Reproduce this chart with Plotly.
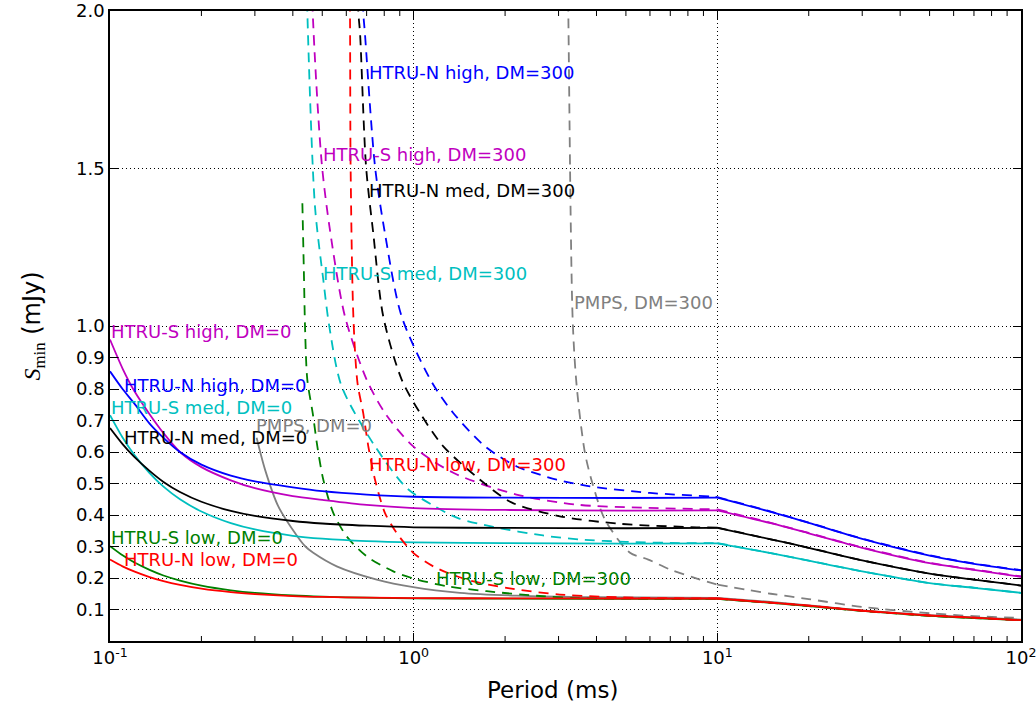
import numpy as np
import plotly.graph_objects as go

# ---------------- data (period in ms, S_min in mJy) ----------------
# DM = 0 curves (solid)
P_sol = [0.1, 0.11, 0.12, 0.135, 0.15, 0.17, 0.2, 0.25, 0.3, 0.4, 0.5, 0.7, 1.0, 2.0, 5.0, 10.0, 15.0, 20.0, 30.0, 50.0, 70.0, 100.0]
S_htrun_high_dm0 = [0.856, 0.80, 0.755, 0.69, 0.645, 0.60, 0.56, 0.525, 0.507, 0.488, 0.476, 0.465, 0.458, 0.455, 0.454, 0.455, 0.41, 0.375, 0.324, 0.271, 0.245, 0.224]
S_htrus_high_dm0 = [0.957, 0.865, 0.795, 0.72, 0.66, 0.60, 0.552, 0.51, 0.485, 0.46, 0.448, 0.432, 0.422, 0.416, 0.414, 0.415, 0.374, 0.342, 0.296, 0.247, 0.226, 0.204]
S_htrun_med_dm0 = [0.676, 0.625, 0.585, 0.54, 0.505, 0.473, 0.442, 0.413, 0.397, 0.381, 0.373, 0.366, 0.361, 0.359, 0.358, 0.359, 0.323, 0.296, 0.256, 0.214, 0.195, 0.176]
S_htrus_med_dm0 = [0.717, 0.646, 0.592, 0.533, 0.49, 0.45, 0.411, 0.374, 0.354, 0.334, 0.325, 0.317, 0.313, 0.311, 0.309, 0.31, 0.279, 0.255, 0.221, 0.184, 0.169, 0.153]
S_htrus_low_dm0 = [0.301, 0.272, 0.25, 0.226, 0.208, 0.192, 0.176, 0.161, 0.1525, 0.1445, 0.1407, 0.1374, 0.1356, 0.1345, 0.134, 0.134, 0.121, 0.111, 0.0955, 0.080, 0.073, 0.066]
S_htrun_low_dm0 = [0.2587, 0.237, 0.221, 0.203, 0.19, 0.178, 0.166, 0.155, 0.149, 0.1427, 0.14, 0.1376, 0.1362, 0.1355, 0.135, 0.135, 0.122, 0.112, 0.096, 0.081, 0.074, 0.066]

P_pmps_dm0 = [0.304, 0.324, 0.358, 0.412, 0.44, 0.467, 0.558, 0.756, 0.997, 1.42, 2.184, 4.0, 10.0, 15.0, 20.0, 30.0, 50.0, 70.0, 100.0]
S_pmps_dm0 = [0.645, 0.544, 0.428, 0.335, 0.30, 0.28, 0.237, 0.195, 0.171, 0.153, 0.144, 0.139, 0.137, 0.124, 0.113, 0.097, 0.082, 0.075, 0.068]

# DM = 300 curves (dashed)
P_htrun_high_dm300 = [0.675, 0.682, 0.691, 0.746, 0.804, 0.913, 1.15, 1.35, 1.718, 2.184, 2.606, 2.958, 3.808, 6.0, 9.46, 10.0, 15.0, 20.0, 30.0, 50.0, 70.0, 100.0]
S_htrun_high_dm300 = [2.3, 2.0, 1.929, 1.506, 1.295, 1.03, 0.82, 0.724, 0.618, 0.554, 0.528, 0.512, 0.491, 0.47, 0.459, 0.457, 0.411, 0.376, 0.325, 0.272, 0.246, 0.225]

P_htrus_high_dm300 = [0.46, 0.465, 0.498, 0.530, 0.594, 0.700, 0.804, 0.997, 1.35, 2.18, 3.44, 5.69, 10.0, 15.0, 20.0, 30.0, 50.0, 70.0, 100.0]
S_htrus_high_dm300 = [2.3, 2.0, 1.517, 1.305, 1.03, 0.83, 0.724, 0.618, 0.534, 0.465, 0.433, 0.423, 0.418, 0.375, 0.343, 0.297, 0.248, 0.227, 0.205]

P_htrun_med_dm300 = [0.65, 0.657, 0.666, 0.697, 0.736, 0.794, 0.913, 1.049, 1.252, 1.654, 2.1, 3.03, 4.78, 8.55, 10.0, 15.0, 20.0, 30.0, 50.0, 70.0, 100.0]
S_htrun_med_dm300 = [2.3, 2.0, 1.929, 1.506, 1.295, 1.03, 0.83, 0.724, 0.618, 0.512, 0.44, 0.396, 0.372, 0.361, 0.36, 0.323, 0.296, 0.256, 0.214, 0.195, 0.176]

P_htrus_med_dm300 = [0.44, 0.4464, 0.4732, 0.5039, 0.5274, 0.5794, 0.7461, 0.95, 1.16, 1.4, 1.83, 2.666, 3.53, 5.0, 7.5, 10.0, 15.0, 20.0, 30.0, 50.0, 70.0, 100.0]
S_htrus_med_dm300 = [2.3, 2.0, 1.379, 1.147, 0.999, 0.808, 0.618, 0.485, 0.43, 0.39, 0.362, 0.335, 0.322, 0.315, 0.311, 0.311, 0.279, 0.255, 0.221, 0.184, 0.169, 0.153]

P_htrun_low_dm300 = [0.612, 0.617, 0.620, 0.633, 0.653, 0.682, 0.709, 0.746, 0.804, 0.879, 0.997, 1.16, 1.495, 2.045, 3.03, 5.69, 10.0, 15.0, 20.0, 30.0, 50.0, 70.0, 100.0]
S_htrun_low_dm300 = [2.3, 2.0, 1.506, 1.03, 0.82, 0.724, 0.618, 0.512, 0.407, 0.343, 0.28, 0.237, 0.195, 0.168, 0.1475, 0.137, 0.135, 0.122, 0.112, 0.096, 0.081, 0.074, 0.066]

P_htrus_low_dm300 = [0.430, 0.4355, 0.4387, 0.4464, 0.465, 0.4817, 0.504, 0.5435, 0.602, 0.700, 0.857, 1.010, 1.285, 1.74, 2.666, 3.443, 6.0, 10.0, 15.0, 20.0, 30.0, 50.0, 70.0, 100.0]
S_htrus_low_dm300 = [1.39, 1.147, 0.999, 0.83, 0.724, 0.618, 0.512, 0.407, 0.332, 0.269, 0.221, 0.197, 0.174, 0.158, 0.142, 0.136, 0.134, 0.134, 0.121, 0.111, 0.0955, 0.080, 0.073, 0.066]

P_pmps_dm300 = [3.2, 3.23, 3.339, 3.443, 3.665, 3.904, 4.267, 5.157, 5.925, 6.984, 8.77, 10.0, 15.0, 20.0, 30.0, 50.0, 70.0, 100.0]
S_pmps_dm300 = [2.3, 2.0, 1.02, 0.808, 0.597, 0.491, 0.385, 0.28, 0.2585, 0.227, 0.195, 0.179, 0.150, 0.133, 0.108, 0.088, 0.079, 0.073]

# tick labels
x_tickvals = [0.1, 1, 10, 100]
x_ticktext = ["10<sup>-1</sup>", "10<sup>0</sup>", "10<sup>1</sup>", "10<sup>2</sup>"]
x_minor = [m * d for d in (0.1, 1, 10) for m in range(2, 10)]
y_tickvals = [0.1, 0.2, 0.3, 0.4, 0.5, 0.6, 0.7, 0.8, 0.9, 1.0, 1.5, 2.0]
y_ticktext = ["0.1", "0.2", "0.3", "0.4", "0.5", "0.6", "0.7", "0.8", "0.9", "1.0", "1.5", "2.0"]

# ---------------- styles ----------------
BLUE = "#0000ff"
MAG = "#bf00bf"
CYAN = "#00bfbf"
BLACK = "#000000"
GREEN = "#008000"
RED = "#ff0000"
GRAY = "#808080"
DASH = "10px,7px"
LW = 1.8
FONT = "DejaVu Sans"
KINK = 10.0  # break in the curves; smoothed separately on each side
XRANGE = [-1.00001, 2.00001]
YRANGE = [0, 2.00001]
PLOT_H = 706 - 11 - 65  # plot-area height in px

fig = go.Figure()


def add(P, S, color, dashed):
    i = P.index(KINK) if KINK in P else len(P) - 1
    for lo, hi in ((0, i + 1), (i, len(P))):
        if hi - lo < 2:
            continue
        fig.add_trace(go.Scatter(
            x=P[lo:hi], y=S[lo:hi], mode="lines",
            line=dict(color=color, width=LW, dash=DASH if dashed else "solid",
                      shape="spline", smoothing=0.8),
            showlegend=False, hoverinfo="skip"))


add(P_pmps_dm0, S_pmps_dm0, GRAY, False)
add(P_pmps_dm300, S_pmps_dm300, GRAY, True)
add(P_sol, S_htrus_low_dm0, GREEN, False)
add(P_htrus_low_dm300, S_htrus_low_dm300, GREEN, True)
add(P_sol, S_htrus_med_dm0, CYAN, False)
add(P_htrus_med_dm300, S_htrus_med_dm300, CYAN, True)
add(P_sol, S_htrus_high_dm0, MAG, False)
add(P_htrus_high_dm300, S_htrus_high_dm300, MAG, True)
add(P_sol, S_htrun_low_dm0, RED, False)
add(P_htrun_low_dm300, S_htrun_low_dm300, RED, True)
add(P_sol, S_htrun_med_dm0, BLACK, False)
add(P_htrun_med_dm300, S_htrun_med_dm300, BLACK, True)
add(P_sol, S_htrun_high_dm0, BLUE, False)
add(P_htrun_high_dm300, S_htrun_high_dm300, BLUE, True)

# minor x ticks (inside, bottom and top) drawn as short segments at the tick positions
tick_h = 5.0 * (YRANGE[1] - YRANGE[0]) / PLOT_H
tx, ty = [], []
for v in x_minor:
    tx += [v, v, None, v, v, None]
    ty += [YRANGE[0], YRANGE[0] + tick_h, None, YRANGE[1] - tick_h, YRANGE[1], None]
fig.add_trace(go.Scatter(x=tx, y=ty, mode="lines", line=dict(color="black", width=1),
                         showlegend=False, hoverinfo="skip", cliponaxis=False))

# curve labels: (text, colour, period, S)
labels = [
    ("HTRU-N high, DM=300", BLUE, 0.707, 1.806),
    ("HTRU-S high, DM=300", MAG, 0.499, 1.543),
    ("HTRU-N med, DM=300", BLACK, 0.707, 1.429),
    ("HTRU-S med, DM=300", CYAN, 0.499, 1.166),
    ("PMPS, DM=300", GRAY, 3.347, 1.075),
    ("HTRU-S high, DM=0", MAG, 0.1, 0.982),
    ("HTRU-N high, DM=0", BLUE, 0.1104, 0.81),
    ("HTRU-S med, DM=0", CYAN, 0.1, 0.741),
    ("PMPS, DM=0", GRAY, 0.3002, 0.683),
    ("HTRU-N med, DM=0", BLACK, 0.1104, 0.646),
    ("HTRU-N low, DM=300", RED, 0.707, 0.559),
    ("HTRU-S low, DM=0", GREEN, 0.1, 0.328),
    ("HTRU-N low, DM=0", RED, 0.1104, 0.259),
    ("HTRU-S low, DM=300", GREEN, 1.175, 0.2),
]
for txt, col, px, sy in labels:
    fig.add_annotation(x=np.log10(px), y=sy, xref="x", yref="y", text=txt,
                       showarrow=False, xanchor="left", yanchor="middle",
                       borderpad=0, font=dict(family=FONT, size=18, color=col))

# axis titles
fig.add_annotation(x=(552 - 110) / 911, y=-0.078, xref="paper", yref="paper",
                   text="Period (ms)", showarrow=False, xanchor="center", yanchor="middle",
                   font=dict(family=FONT, size=23, color="black"))
fig.add_annotation(x=-0.085, y=0.5, xref="paper", yref="paper",
                   text="<span style='font-family:Liberation Serif'><i>S</i><sub>min</sub></span> (mJy)",
                   textangle=-90, showarrow=False, xanchor="center", yanchor="middle",
                   font=dict(family=FONT, size=24, color="black"))

axis_common = dict(
    showline=True, linecolor="black", linewidth=1.5, mirror="ticks",
    ticks="inside", ticklen=8, tickwidth=1, tickcolor="black",
    showgrid=True, gridcolor="black", gridwidth=1, griddash="1px,3px",
    zeroline=False, tickfont=dict(family=FONT, size=18, color="black"),
    automargin=False, ticklabeloverflow="allow",
)

fig.update_xaxes(type="log", range=XRANGE, tickmode="array", tickvals=x_tickvals,
                 ticktext=x_ticktext, **axis_common)
fig.update_yaxes(range=YRANGE, tickmode="array", tickvals=y_tickvals, ticktext=y_ticktext,
                 **axis_common)

fig.update_layout(
    width=1036, height=706,
    margin=dict(l=110, r=15, t=11, b=65, autoexpand=False),
    paper_bgcolor="white", plot_bgcolor="white",
    showlegend=False,
    font=dict(family=FONT, size=18, color="black"),
)

fig.write_html("out.html")
